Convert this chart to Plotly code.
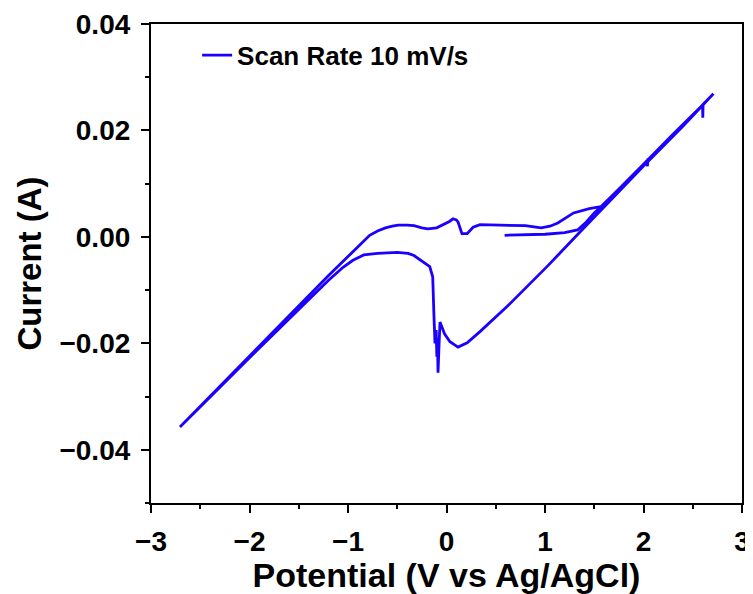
import plotly.graph_objects as go

# Cyclic voltammogram (potential in V, current in A)
# forward start segment and anodic sweep up to the vertex
v_start = [0.59, 0.80, 1.00, 1.20, 1.33, 1.42, 1.50, 1.60, 1.80, 2.00, 2.03, 2.04, 2.045, 2.05,
           2.30, 2.59, 2.600, 2.602, 2.605, 2.71]
i_start = [0.0003, 0.0004, 0.0005, 0.0008, 0.0013, 0.0028, 0.0045, 0.0062, 0.0099, 0.0136, 0.0142,
           0.0133, 0.0147, 0.0146, 0.0193, 0.0247, 0.0248, 0.0224, 0.0249, 0.0269]

# reverse (cathodic) sweep from the positive vertex to the negative vertex
v_rev = [2.40, 2.00, 1.60, 1.36, 1.03, 0.62, 0.34, 0.21, 0.117, 0.035, -0.02, -0.05, -0.066,
         -0.075, -0.086, -0.092, -0.098, -0.105, -0.117, -0.127, -0.14, -0.17, -0.27, -0.33,
         -0.39, -0.50, -0.70, -0.84, -0.95, -1.05, -1.20, -1.40, -2.00, -2.706]
i_rev = [0.0208, 0.0133, 0.0057, 0.0010, -0.0054, -0.0130, -0.0178, -0.0199, -0.0207, -0.0197,
         -0.0182, -0.0168, -0.0160, -0.0200, -0.0255, -0.0190, -0.0225, -0.0175, -0.0200, -0.0150,
         -0.0075, -0.0056, -0.0043, -0.0035, -0.0031, -0.0029, -0.0031, -0.0034, -0.0044, -0.0057,
         -0.0082, -0.0118, -0.0227, -0.0357]

# return (anodic) sweep from the negative vertex
v_ret = [-2.00, -1.50, -1.20, -1.00, -0.90, -0.84, -0.78, -0.70, -0.62, -0.55, -0.49, -0.40,
         -0.33, -0.25, -0.19, -0.10, -0.03, 0.03, 0.066, 0.10, 0.117, 0.14, 0.157, 0.21, 0.27,
         0.34, 0.62, 0.80, 0.96, 1.05, 1.13, 1.29, 1.45, 1.57, 1.80, 2.00, 2.30]
i_ret = [-0.0223, -0.0129, -0.0073, -0.0037, -0.0018, -0.0007, 0.0003, 0.0011, 0.0017, 0.0020,
         0.0022, 0.0022, 0.0021, 0.0017, 0.0015, 0.0017, 0.0023, 0.0029, 0.0034, 0.0032, 0.0028,
         0.0015, 0.0006, 0.0006, 0.0018, 0.0023, 0.0022, 0.0021, 0.0017, 0.0020, 0.0026, 0.0045,
         0.0053, 0.0057, 0.0099, 0.0137, 0.0193]

potential = v_start + v_rev + v_ret
current = i_start + i_rev + i_ret

x_ticks = [-3, -2, -1, 0, 1, 2, 3]
x_tick_text = ["\u22123", "\u22122", "\u22121", "0", "1", "2", "3"]
y_ticks = [-0.04, -0.02, 0.0, 0.02, 0.04]
y_tick_text = ["\u22120.04", "\u22120.02", "0.00", "0.02", "0.04"]

FONT = "Liberation Sans, Arial, sans-serif"
LINE_COLOR = "#1c00ff"

fig = go.Figure()
fig.add_trace(go.Scatter(x=potential, y=current, mode="lines",
                         line=dict(color=LINE_COLOR, width=2.8),
                         name="<b>Scan Rate 10 mV/s</b>"))

axis_common = dict(showline=True, linecolor="black", linewidth=2.2, mirror=True,
                   showgrid=False, zeroline=False, ticks="outside", ticklen=8,
                   tickwidth=2, tickcolor="black", automargin=False,
                   tickfont=dict(family=FONT, size=28, color="black", weight="bold"))

# the page body adds an 8 px offset, so the figure is sized to the remaining window
fig.update_layout(
    width=745, height=586,
    margin=dict(l=143, r=11, t=16, b=91),
    paper_bgcolor="white", plot_bgcolor="white",
    showlegend=True,
    legend=dict(x=0.078, y=0.935, xanchor="left", yanchor="middle",
                font=dict(family=FONT, size=26, color="black"),
                bgcolor="rgba(0,0,0,0)", itemwidth=30),
    xaxis=dict(range=[-3, 3], tickvals=x_ticks, ticktext=x_tick_text,
               ticklabelstandoff=4,
               minor=dict(ticks="outside", ticklen=4, tickwidth=2, tickcolor="black", dtick=0.5),
               title=dict(text="<b>Potential (V vs Ag/AgCl)</b>", standoff=6,
                          font=dict(family=FONT, size=34, color="black")),
               **axis_common),
    yaxis=dict(range=[-0.05, 0.04], tickvals=y_ticks, ticktext=y_tick_text,
               ticklabelstandoff=5,
               minor=dict(ticks="outside", ticklen=4, tickwidth=2, tickcolor="black", dtick=0.01),
               title=dict(text="<b>Current (A)</b>", standoff=8,
                          font=dict(family=FONT, size=33, color="black")),
               **axis_common),
)

fig.write_html("out.html")
